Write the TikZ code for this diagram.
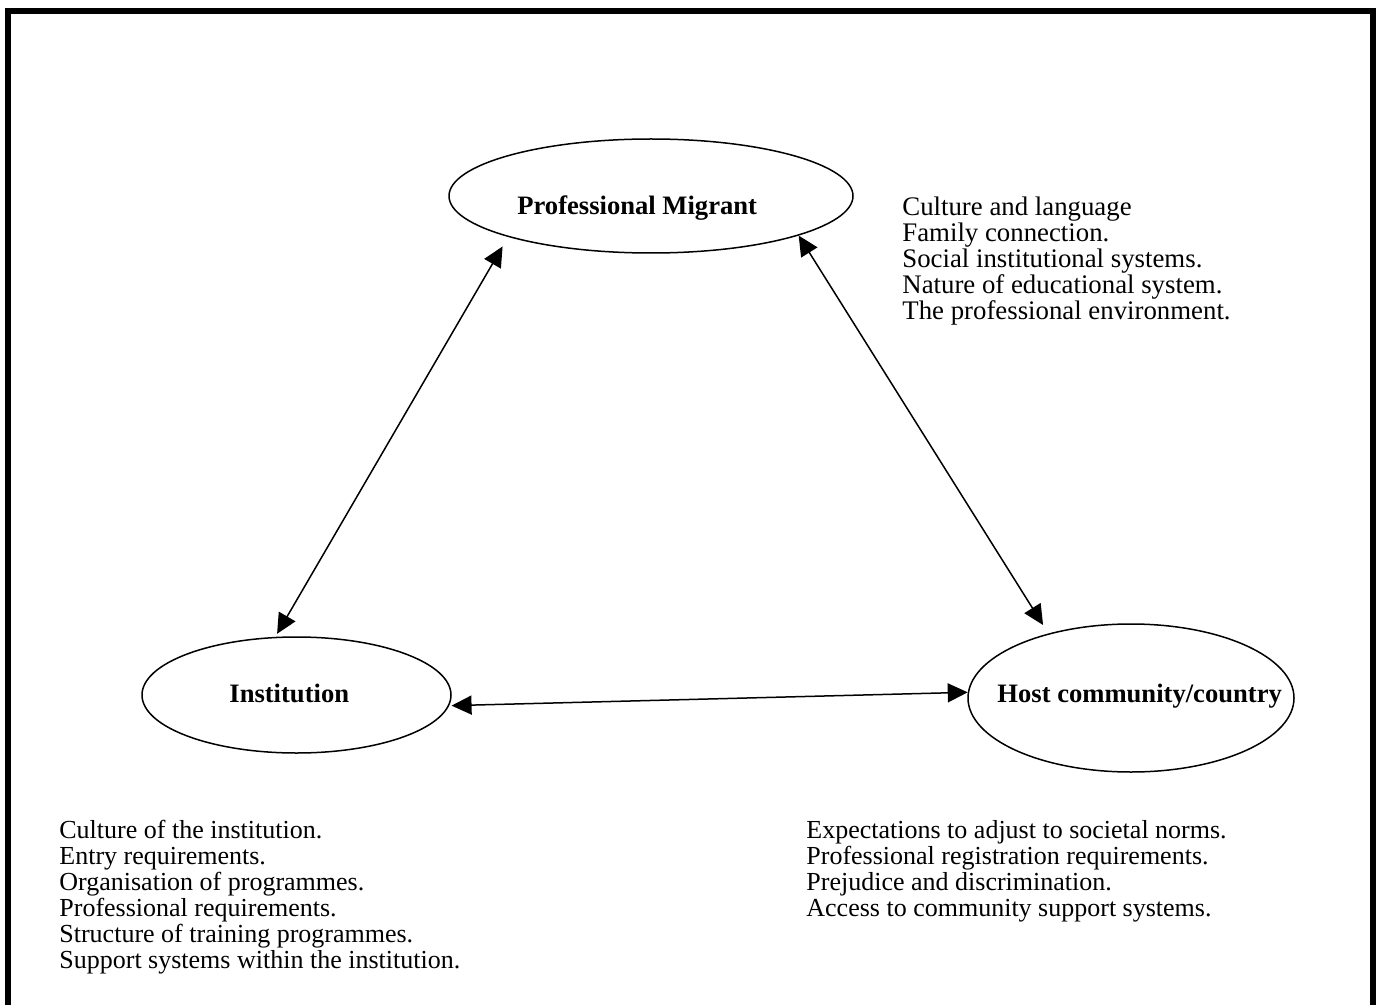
\documentclass[tikz,border=0pt]{standalone}
\usepackage{fontspec}
\setmainfont{Liberation Serif}
\usetikzlibrary{arrows.meta,shapes.geometric}
\begin{document}
\begin{tikzpicture}[x=0.5pt,y=-0.5pt,
  frame/.style={line width=3pt},
  ell/.style={draw, ellipse, line width=0.75pt, inner sep=0pt},
  lbl/.style={anchor=base west, inner sep=0pt, font=\fontsize{13.3}{13}\selectfont\bfseries},
  txt/.style={anchor=base west, inner sep=0pt, font=\fontsize{13}{13}\selectfont},
  txtb/.style={anchor=base west, inner sep=0pt, font=\fontsize{13.4}{13}\selectfont},
  link/.style={line width=0.75pt, {Triangle[length=10pt,width=9.5pt]}-{Triangle[length=10pt,width=9.5pt]}}]
\useasboundingbox (0,0) rectangle (1380,1005);
\draw[frame] (8,1005) -- (8,11) -- (1373,11) -- (1373,1005);

\node[ell, minimum width=202pt, minimum height=57pt] (pm) at (651,196) {};
\node[ell, minimum width=154.5pt, minimum height=58pt] (inst) at (296.5,695) {};
\node[ell, minimum width=163pt, minimum height=74pt] (host) at (1131,698) {};

\node[lbl] (pmlbl) at (517,215) {Professional Migrant};
\node[lbl] (instlbl) at (229,702) {Institution};
\node[lbl] (hostlbl) at (997,702) {Host community/country};

\draw[link, shorten <=5.5pt, shorten >=1.75pt] (pm.196) -- (inst.110);
\draw[link, shorten <=0pt, shorten >=5pt] (pm.345) -- (host.142);
\draw[link, shorten <=1.2pt, shorten >=0pt] (inst.356) -- (host.178);

\foreach \t [count=\i] in {Culture and language, Family connection., Social institutional systems., Nature of educational system., The professional environment.}
  \node[txtb] (pmf\i) at (902,{216+26*(\i-1)}) {\t};
\foreach \t [count=\i] in {Culture of the institution., Entry requirements., Organisation of programmes., Professional requirements., Structure of training programmes., Support systems within the institution.}
  \node[txt] (instf\i) at (59,{838+26*(\i-1)}) {\t};
\foreach \t [count=\i] in {Expectations to adjust to societal norms., Professional registration requirements., Prejudice and discrimination., Access to community support systems.}
  \node[txt] (hostf\i) at (806,{838+26*(\i-1)}) {\t};
\end{tikzpicture}
\end{document}
